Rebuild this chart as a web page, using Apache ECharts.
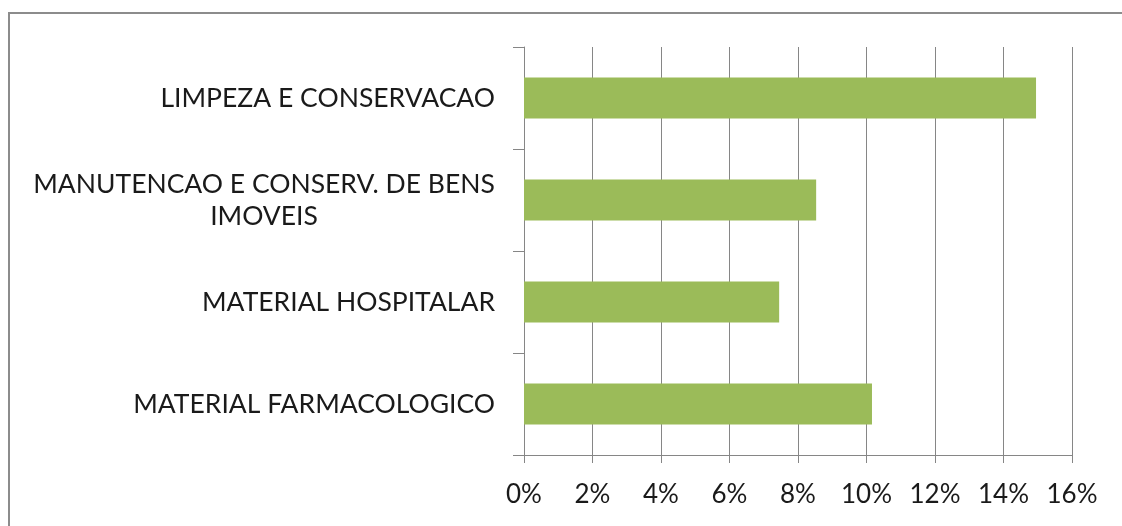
<!DOCTYPE html>
<html>
<head>
<meta charset="utf-8">
<script src="https://cdn.jsdelivr.net/npm/echarts@6/dist/echarts.min.js"></script>
<style>
  html, body { margin: 0; padding: 0; background: #fff; }
  #chart { width: 1122px; height: 526px; }
</style>
</head>
<body>
<div id="chart"></div>
<script>
// categorias, de cima para baixo
const categories = [
  'LIMPEZA E CONSERVACAO',
  'MANUTENCAO E CONSERV. DE BENS\nIMOVEIS',
  'MATERIAL HOSPITALAR',
  'MATERIAL FARMACOLOGICO'
]
// percentuais (%)
const values = [14.95, 8.53, 7.45, 10.16]
const xTicks = [0, 2, 4, 6, 8, 10, 12, 14, 16]

const chart = echarts.init(document.getElementById('chart'))

const axisGray = '#868686'
const font = 'Lato, "Open Sans", sans-serif'
const labelSize = 26.5

// largura da linha mais longa do rótulo de duas linhas
const longLine = categories[1].split('\n')[0]
const longWidth = echarts.format.getTextRect
  ? echarts.format.getTextRect(longLine, labelSize + 'px ' + font).width
  : 465

const option = {
  animation: false,
  grid: {
    top: 47,
    left: 524,
    right: 50,
    bottom: 71,
    containLabel: false
  },
  graphic: [
    {
      type: 'rect',
      shape: { x: 9, y: 13, width: 1300, height: 700 },
      style: { fill: 'none', stroke: '#8c8c8c', lineWidth: 2 },
      silent: true
    }
  ],
  xAxis: {
    type: 'value',
    min: xTicks[0],
    max: xTicks[xTicks.length - 1],
    interval: 2,
    axisLine: { show: true, lineStyle: { color: axisGray, width: 1 } },
    axisTick: { show: true, length: 8, lineStyle: { color: axisGray } },
    splitLine: { show: true, lineStyle: { color: axisGray, width: 1 } },
    axisLabel: {
      margin: 27,
      color: '#1a1a1a',
      fontFamily: font,
      fontSize: 26,
      formatter: v => v + '%'
    }
  },
  yAxis: {
    type: 'category',
    inverse: true,
    data: categories,
    axisLine: { show: true, lineStyle: { color: axisGray, width: 1 } },
    axisTick: { show: true, length: 11, lineStyle: { color: axisGray } },
    axisLabel: {
      margin: 29,
      color: '#1a1a1a',
      fontFamily: font,
      fontSize: labelSize,
      lineHeight: 32,
      formatter: v => {
        // rótulo de duas linhas centralizado
        if (v.indexOf('\n') >= 0) {
          return v.split('\n').map(s => '{c|' + s + '}').join('\n')
        }
        return v
      },
      rich: {
        c: {
          width: Math.ceil(longWidth),
          align: 'center',
          fontFamily: font,
          fontSize: labelSize,
          lineHeight: 32,
          color: '#1a1a1a'
        }
      }
    }
  },
  series: [
    {
      type: 'bar',
      data: values,
      barWidth: 41,
      itemStyle: { color: '#9BBB59' }
    }
  ]
}

chart.setOption(option)
</script>
</body>
</html>
